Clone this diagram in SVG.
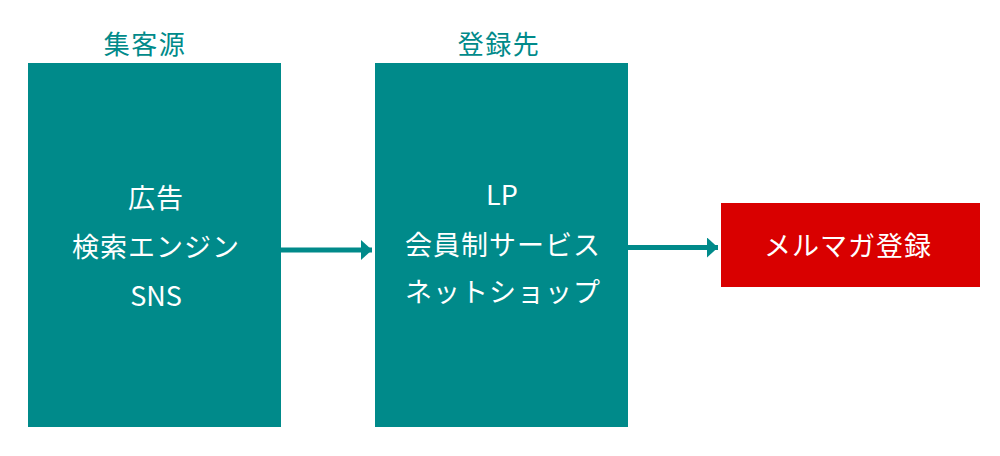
<svg xmlns="http://www.w3.org/2000/svg" width="1000" height="456" viewBox="0 0 1000 456">
<style>
.box{fill:#008a8a}
.red{fill:#d90000}
.t{font-family:"Noto Sans CJK JP","Noto Sans",sans-serif;font-size:27px;fill:#ffffff;text-anchor:middle;letter-spacing:1px}
.l{letter-spacing:0}
.h{font-family:"Noto Sans CJK JP","Noto Sans",sans-serif;font-size:26px;fill:#008a8a;text-anchor:middle;letter-spacing:1.5px}
.c{stroke:#008a8a;stroke-width:5;fill:none}
</style>
<defs>
<marker id="ah" markerUnits="userSpaceOnUse" markerWidth="12" markerHeight="20" refX="11" refY="10" orient="auto">
<path d="M0,0 L11,10 L0,20 Z" fill="#008a8a"/>
</marker>
</defs>
<rect width="1000" height="456" fill="#ffffff"/>
<g id="node-source">
<text class="h" x="145" y="54">集客源</text>
<rect class="box" x="28" y="63" width="253" height="364"/>
<text class="t" x="156" y="208">広告</text>
<text class="t" x="156" y="257">検索エンジン</text>
<text class="t l" x="156" y="306">SNS</text>
</g>
<g id="node-dest">
<text class="h" x="499" y="54">登録先</text>
<rect class="box" x="375" y="63" width="253" height="364"/>
<text class="t l" x="502" y="205">LP</text>
<text class="t" x="503" y="255">会員制サービス</text>
<text class="t" x="503" y="302">ネットショップ</text>
</g>
<g id="node-mail">
<rect class="red" x="721" y="203" width="259" height="84"/>
<text class="t" x="848" y="256">メルマガ登録</text>
</g>
<g id="connectors">
<line class="c" x1="281" y1="250" x2="372" y2="250" marker-end="url(#ah)"/>
<line class="c" x1="628" y1="247.5" x2="718" y2="247.5" marker-end="url(#ah)"/>
</g>
</svg>
